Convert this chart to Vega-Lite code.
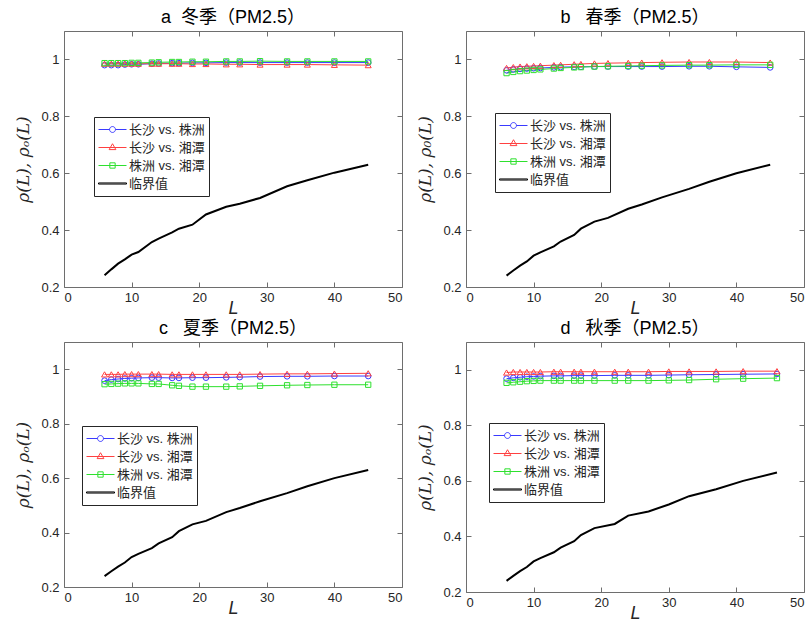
{
  "$schema": "https://vega.github.io/schema/vega-lite/v6.json",
  "padding": {"left": 14, "top": 8, "right": 2, "bottom": 0},
  "background": "white",
  "config": {
    "view": {"stroke": "#6e6e6e", "strokeWidth": 1},
    "font": "'Liberation Sans', 'Noto Sans CJK SC', sans-serif",
    "point": {"opacity": 1},
    "axis": {"labelFont": "'Liberation Sans', sans-serif", "labelFontSize": 13, "labelColor": "#262626", "tickColor": "#6e6e6e", "domain": false, "grid": false, "tickSize": -5, "labelPadding": 9, "titleColor": "#262626"},
    "title": {"font": "'Liberation Sans', 'Noto Sans CJK SC', sans-serif", "fontSize": 18, "fontWeight": "normal", "color": "#000000", "offset": 4},
    "legend": {"fillColor": "white", "strokeColor": "#262626", "padding": 4, "rowPadding": 1, "clipHeight": 17, "symbolSize": 784, "symbolStrokeWidth": 1, "symbolOpacity": 1, "labelFont": "'Liberation Sans', 'Noto Sans CJK SC', sans-serif", "labelFontSize": 13, "labelColor": "#262626", "labelOffset": 2, "cornerRadius": 0}
  },
  "datasets": {
    "d": [
      {"p":"a","L":6,"b":0.980,"r":0.985,"g":0.987,"k":0.241},
      {"p":"a","L":7,"b":0.980,"r":0.985,"g":0.987,"k":0.262},
      {"p":"a","L":8,"b":0.980,"r":0.985,"g":0.987,"k":0.282},
      {"p":"a","L":9,"b":0.982,"r":0.985,"g":0.987,"k":0.297},
      {"p":"a","L":10,"b":0.983,"r":0.985,"g":0.988,"k":0.314},
      {"p":"a","L":11,"b":0.983,"r":0.985,"g":0.988,"k":0.323},
      {"p":"a","L":13,"b":0.985,"r":0.985,"g":0.989,"k":0.358},
      {"p":"a","L":14,"b":0.986,"r":0.985,"g":0.990,"k":0.370},
      {"p":"a","L":16,"b":0.987,"r":0.985,"g":0.991,"k":0.392},
      {"p":"a","L":17,"b":0.987,"r":0.985,"g":0.991,"k":0.405},
      {"p":"a","L":19,"b":0.988,"r":0.984,"g":0.992,"k":0.419},
      {"p":"a","L":21,"b":0.988,"r":0.984,"g":0.992,"k":0.455},
      {"p":"a","L":24,"b":0.989,"r":0.983,"g":0.993,"k":0.482},
      {"p":"a","L":26,"b":0.989,"r":0.983,"g":0.993,"k":0.493},
      {"p":"a","L":29,"b":0.989,"r":0.982,"g":0.994,"k":0.513},
      {"p":"a","L":33,"b":0.989,"r":0.982,"g":0.993,"k":0.554},
      {"p":"a","L":36,"b":0.989,"r":0.982,"g":0.993,"k":0.575},
      {"p":"a","L":40,"b":0.989,"r":0.981,"g":0.993,"k":0.602},
      {"p":"a","L":45,"b":0.989,"r":0.980,"g":0.993,"k":0.630},

      {"p":"b","L":6,"b":0.962,"r":0.970,"g":0.952,"k":0.240},
      {"p":"b","L":7,"b":0.965,"r":0.973,"g":0.956,"k":0.258},
      {"p":"b","L":8,"b":0.967,"r":0.975,"g":0.959,"k":0.275},
      {"p":"b","L":9,"b":0.968,"r":0.976,"g":0.961,"k":0.290},
      {"p":"b","L":10,"b":0.969,"r":0.977,"g":0.963,"k":0.310},
      {"p":"b","L":11,"b":0.970,"r":0.978,"g":0.965,"k":0.322},
      {"p":"b","L":13,"b":0.972,"r":0.980,"g":0.968,"k":0.343},
      {"p":"b","L":14,"b":0.973,"r":0.981,"g":0.970,"k":0.360},
      {"p":"b","L":16,"b":0.974,"r":0.983,"g":0.972,"k":0.383},
      {"p":"b","L":17,"b":0.974,"r":0.984,"g":0.973,"k":0.405},
      {"p":"b","L":19,"b":0.975,"r":0.986,"g":0.975,"k":0.430},
      {"p":"b","L":21,"b":0.975,"r":0.987,"g":0.976,"k":0.443},
      {"p":"b","L":24,"b":0.975,"r":0.988,"g":0.977,"k":0.475},
      {"p":"b","L":26,"b":0.975,"r":0.989,"g":0.978,"k":0.490},
      {"p":"b","L":29,"b":0.975,"r":0.990,"g":0.979,"k":0.515},
      {"p":"b","L":33,"b":0.976,"r":0.991,"g":0.980,"k":0.545},
      {"p":"b","L":36,"b":0.976,"r":0.991,"g":0.980,"k":0.570},
      {"p":"b","L":40,"b":0.974,"r":0.991,"g":0.981,"k":0.600},
      {"p":"b","L":45,"b":0.972,"r":0.989,"g":0.981,"k":0.630},

      {"p":"c","L":6,"b":0.958,"r":0.981,"g":0.945,"k":0.240},
      {"p":"c","L":7,"b":0.962,"r":0.981,"g":0.946,"k":0.258},
      {"p":"c","L":8,"b":0.964,"r":0.981,"g":0.947,"k":0.275},
      {"p":"c","L":9,"b":0.966,"r":0.982,"g":0.948,"k":0.290},
      {"p":"c","L":10,"b":0.967,"r":0.982,"g":0.948,"k":0.310},
      {"p":"c","L":11,"b":0.968,"r":0.982,"g":0.948,"k":0.322},
      {"p":"c","L":13,"b":0.969,"r":0.982,"g":0.946,"k":0.343},
      {"p":"c","L":14,"b":0.969,"r":0.982,"g":0.946,"k":0.360},
      {"p":"c","L":16,"b":0.968,"r":0.981,"g":0.941,"k":0.383},
      {"p":"c","L":17,"b":0.968,"r":0.981,"g":0.939,"k":0.405},
      {"p":"c","L":19,"b":0.969,"r":0.981,"g":0.936,"k":0.430},
      {"p":"c","L":21,"b":0.969,"r":0.981,"g":0.936,"k":0.443},
      {"p":"c","L":24,"b":0.970,"r":0.981,"g":0.936,"k":0.475},
      {"p":"c","L":26,"b":0.971,"r":0.981,"g":0.937,"k":0.490},
      {"p":"c","L":29,"b":0.973,"r":0.982,"g":0.939,"k":0.515},
      {"p":"c","L":33,"b":0.974,"r":0.983,"g":0.941,"k":0.545},
      {"p":"c","L":36,"b":0.974,"r":0.983,"g":0.942,"k":0.570},
      {"p":"c","L":40,"b":0.975,"r":0.984,"g":0.943,"k":0.600},
      {"p":"c","L":45,"b":0.975,"r":0.985,"g":0.943,"k":0.630},

      {"p":"d","L":6,"b":0.968,"r":0.990,"g":0.953,"k":0.240},
      {"p":"d","L":7,"b":0.971,"r":0.992,"g":0.955,"k":0.258},
      {"p":"d","L":8,"b":0.973,"r":0.992,"g":0.957,"k":0.275},
      {"p":"d","L":9,"b":0.975,"r":0.992,"g":0.959,"k":0.290},
      {"p":"d","L":10,"b":0.976,"r":0.992,"g":0.960,"k":0.310},
      {"p":"d","L":11,"b":0.977,"r":0.992,"g":0.961,"k":0.322},
      {"p":"d","L":13,"b":0.978,"r":0.993,"g":0.961,"k":0.343},
      {"p":"d","L":14,"b":0.978,"r":0.993,"g":0.961,"k":0.360},
      {"p":"d","L":16,"b":0.979,"r":0.993,"g":0.961,"k":0.383},
      {"p":"d","L":17,"b":0.979,"r":0.993,"g":0.961,"k":0.405},
      {"p":"d","L":19,"b":0.979,"r":0.993,"g":0.961,"k":0.430},
      {"p":"d","L":22,"b":0.980,"r":0.993,"g":0.961,"k":0.445},
      {"p":"d","L":24,"b":0.980,"r":0.993,"g":0.961,"k":0.475},
      {"p":"d","L":27,"b":0.980,"r":0.993,"g":0.961,"k":0.490},
      {"p":"d","L":30,"b":0.981,"r":0.994,"g":0.962,"k":0.515},
      {"p":"d","L":33,"b":0.982,"r":0.994,"g":0.963,"k":0.545},
      {"p":"d","L":37,"b":0.983,"r":0.994,"g":0.966,"k":0.570},
      {"p":"d","L":41,"b":0.984,"r":0.995,"g":0.968,"k":0.600},
      {"p":"d","L":46,"b":0.985,"r":0.995,"g":0.970,"k":0.630}
    ]
  },
  "data": {"name": "d"},
  "transform": [{"fold": ["b", "r", "g", "k"], "as": ["s", "v"]}],
  "columns": 2,
  "spacing": {"row": 55, "column": 64},
  "bounds": "flush",
  "resolve": {"scale": {"color": "independent", "shape": "independent"}, "legend": {"color": "independent", "shape": "independent"}},
  "concat": [
        {
          "title": "a\u00a0\u00a0冬季（PM2.5）",
          "width": 338, "height": 256,
          "transform": [{"filter": "datum.p == 'a'"}],
          "layer": [
            {"transform": [{"filter": "datum.s == 'k'"}], "mark": {"type": "line", "color": "#000000", "strokeWidth": 2},
             "encoding": {
               "x": {"field": "L", "type": "quantitative", "scale": {"domain": [0, 50]}, "axis": {"orient": "bottom", "values": [0,10,20,30,40,50], "title": "L", "titleFontStyle": "italic", "titleFontSize": 18, "titleFontWeight": "normal", "titlePadding": -5, "labelPadding": 9}},
               "y": {"field": "v", "type": "quantitative", "scale": {"domain": [0.2, 1.1]}, "axis": {"orient": "left", "values": [0.2,0.4,0.6,0.8,1], "format": "~g", "title": "ρ(L), ρₒ(L)", "titleFont": "'DejaVu Serif', serif", "titleFontStyle": "italic", "titleFontSize": 17, "titleFontWeight": "normal", "titlePadding": 8, "labelPadding": 10}}}},
            {"transform": [{"filter": "datum.s == 'k'"}], "mark": {"type": "line", "opacity": 0},
             "encoding": {
               "x": {"field": "L", "type": "quantitative", "scale": {"domain": [0, 50]}, "axis": {"orient": "top", "values": [0,10,20,30,40,50], "labels": false, "title": null}},
               "y": {"field": "v", "type": "quantitative", "scale": {"domain": [0.2, 1.1]}, "axis": {"orient": "right", "values": [0.2,0.4,0.6,0.8,1], "labels": false, "title": null}}}},
            {"transform": [{"filter": "datum.s != 'k'"}], "mark": {"type": "line", "strokeWidth": 1},
             "encoding": {
               "x": {"field": "L", "type": "quantitative", "scale": {"domain": [0, 50]}, "axis": null},
               "y": {"field": "v", "type": "quantitative", "scale": {"domain": [0.2, 1.1]}, "axis": null},
               "color": {"field": "s", "type": "nominal", "scale": {"domain": ["b","r","g","k"], "range": ["#3a3aff","#ff4040","#2ee02e","#000000"]}, "legend": {"title": null, "orient": "none", "legendX": 30, "legendY": 86, "labelExpr": "{'b':'长沙 vs. 株洲','r':'长沙 vs. 湘潭','g':'株洲 vs. 湘潭','k':'临界值'}[datum.value]"}}}},
            {"transform": [{"filter": "datum.s == 'b'"}], "mark": {"type": "point", "shape": "circle", "filled": false, "size": 32, "strokeWidth": 1, "color": "#3a3aff"},
             "encoding": {"x": {"field": "L", "type": "quantitative", "scale": {"domain": [0, 50]}, "axis": null}, "y": {"field": "v", "type": "quantitative", "scale": {"domain": [0.2, 1.1]}, "axis": null}}},
            {"transform": [{"filter": "datum.s == 'r'"}], "mark": {"type": "point", "shape": "triangle-up", "filled": false, "size": 36, "strokeWidth": 1, "color": "#ff4040"},
             "encoding": {"x": {"field": "L", "type": "quantitative", "scale": {"domain": [0, 50]}, "axis": null}, "y": {"field": "v", "type": "quantitative", "scale": {"domain": [0.2, 1.1]}, "axis": null}}},
            {"transform": [{"filter": "datum.s == 'g'"}], "mark": {"type": "point", "shape": "square", "filled": false, "size": 28, "strokeWidth": 1, "color": "#2ee02e"},
             "encoding": {"x": {"field": "L", "type": "quantitative", "scale": {"domain": [0, 50]}, "axis": null}, "y": {"field": "v", "type": "quantitative", "scale": {"domain": [0.2, 1.1]}, "axis": null}}},
            {"transform": [{"filter": "false"}], "mark": {"type": "point", "filled": false, "strokeWidth": 1, "opacity": 1},
             "encoding": {
               "x": {"field": "L", "type": "quantitative", "scale": {"domain": [0, 50]}, "axis": null},
               "y": {"field": "v", "type": "quantitative", "scale": {"domain": [0.2, 1.1]}, "axis": null},
               "color": {"field": "s", "type": "nominal", "scale": {"domain": ["b","r","g","k"], "range": ["#3a3aff","#ff4040","#2ee02e","#000000"]}, "legend": {"title": null, "orient": "none", "legendX": 30, "legendY": 86, "labelExpr": "{'b':'长沙 vs. 株洲','r':'长沙 vs. 湘潭','g':'株洲 vs. 湘潭','k':'临界值'}[datum.value]"}},
               "shape": {"field": "s", "type": "nominal", "scale": {"domain": ["b","r","g","k"], "range": ["M-1,0H-0.21A0.21,0.21,0,1,1,0.21,0A0.21,0.21,0,1,1,-0.21,0M0.21,0H1", "M-1,0H1M0,-0.27L0.24,0.15L-0.24,0.15Z", "M-1,0H1M-0.19,-0.19H0.19V0.19H-0.19Z", "M-1,-0.04H1V0.04H-1Z"]}, "legend": {"title": null, "orient": "none", "legendX": 30, "legendY": 86, "labelExpr": "{'b':'长沙 vs. 株洲','r':'长沙 vs. 湘潭','g':'株洲 vs. 湘潭','k':'临界值'}[datum.value]"}}}}
          ],
          "resolve": {"axis": {"x": "independent", "y": "independent"}}
        },
        {
          "title": "b\u00a0\u00a0\u00a0春季（PM2.5）",
          "width": 338, "height": 256,
          "transform": [{"filter": "datum.p == 'b'"}],
          "layer": [
            {"transform": [{"filter": "datum.s == 'k'"}], "mark": {"type": "line", "color": "#000000", "strokeWidth": 2},
             "encoding": {
               "x": {"field": "L", "type": "quantitative", "scale": {"domain": [0, 50]}, "axis": {"orient": "bottom", "values": [0,10,20,30,40,50], "title": "L", "titleFontStyle": "italic", "titleFontSize": 18, "titleFontWeight": "normal", "titlePadding": -5, "labelPadding": 9}},
               "y": {"field": "v", "type": "quantitative", "scale": {"domain": [0.2, 1.1]}, "axis": {"orient": "left", "values": [0.2,0.4,0.6,0.8,1], "format": "~g", "title": "ρ(L), ρ₀(L)", "titleFont": "'DejaVu Serif', serif", "titleFontStyle": "italic", "titleFontSize": 17, "titleFontWeight": "normal", "titlePadding": 8, "labelPadding": 10}}}},
            {"transform": [{"filter": "datum.s == 'k'"}], "mark": {"type": "line", "opacity": 0},
             "encoding": {
               "x": {"field": "L", "type": "quantitative", "scale": {"domain": [0, 50]}, "axis": {"orient": "top", "values": [0,10,20,30,40,50], "labels": false, "title": null}},
               "y": {"field": "v", "type": "quantitative", "scale": {"domain": [0.2, 1.1]}, "axis": {"orient": "right", "values": [0.2,0.4,0.6,0.8,1], "labels": false, "title": null}}}},
            {"transform": [{"filter": "datum.s != 'k'"}], "mark": {"type": "line", "strokeWidth": 1},
             "encoding": {
               "x": {"field": "L", "type": "quantitative", "scale": {"domain": [0, 50]}, "axis": null},
               "y": {"field": "v", "type": "quantitative", "scale": {"domain": [0.2, 1.1]}, "axis": null},
               "color": {"field": "s", "type": "nominal", "scale": {"domain": ["b","r","g","k"], "range": ["#3a3aff","#ff4040","#2ee02e","#000000"]}, "legend": {"title": null, "orient": "none", "legendX": 29, "legendY": 82, "labelExpr": "{'b':'长沙 vs. 株洲','r':'长沙 vs. 湘潭','g':'株洲 vs. 湘潭','k':'临界值'}[datum.value]"}}}},
            {"transform": [{"filter": "datum.s == 'b'"}], "mark": {"type": "point", "shape": "circle", "filled": false, "size": 32, "strokeWidth": 1, "color": "#3a3aff"},
             "encoding": {"x": {"field": "L", "type": "quantitative", "scale": {"domain": [0, 50]}, "axis": null}, "y": {"field": "v", "type": "quantitative", "scale": {"domain": [0.2, 1.1]}, "axis": null}}},
            {"transform": [{"filter": "datum.s == 'r'"}], "mark": {"type": "point", "shape": "triangle-up", "filled": false, "size": 36, "strokeWidth": 1, "color": "#ff4040"},
             "encoding": {"x": {"field": "L", "type": "quantitative", "scale": {"domain": [0, 50]}, "axis": null}, "y": {"field": "v", "type": "quantitative", "scale": {"domain": [0.2, 1.1]}, "axis": null}}},
            {"transform": [{"filter": "datum.s == 'g'"}], "mark": {"type": "point", "shape": "square", "filled": false, "size": 28, "strokeWidth": 1, "color": "#2ee02e"},
             "encoding": {"x": {"field": "L", "type": "quantitative", "scale": {"domain": [0, 50]}, "axis": null}, "y": {"field": "v", "type": "quantitative", "scale": {"domain": [0.2, 1.1]}, "axis": null}}},
            {"transform": [{"filter": "false"}], "mark": {"type": "point", "filled": false, "strokeWidth": 1, "opacity": 1},
             "encoding": {
               "x": {"field": "L", "type": "quantitative", "scale": {"domain": [0, 50]}, "axis": null},
               "y": {"field": "v", "type": "quantitative", "scale": {"domain": [0.2, 1.1]}, "axis": null},
               "color": {"field": "s", "type": "nominal", "scale": {"domain": ["b","r","g","k"], "range": ["#3a3aff","#ff4040","#2ee02e","#000000"]}, "legend": {"title": null, "orient": "none", "legendX": 29, "legendY": 82, "labelExpr": "{'b':'长沙 vs. 株洲','r':'长沙 vs. 湘潭','g':'株洲 vs. 湘潭','k':'临界值'}[datum.value]"}},
               "shape": {"field": "s", "type": "nominal", "scale": {"domain": ["b","r","g","k"], "range": ["M-1,0H-0.21A0.21,0.21,0,1,1,0.21,0A0.21,0.21,0,1,1,-0.21,0M0.21,0H1", "M-1,0H1M0,-0.27L0.24,0.15L-0.24,0.15Z", "M-1,0H1M-0.19,-0.19H0.19V0.19H-0.19Z", "M-1,-0.04H1V0.04H-1Z"]}, "legend": {"title": null, "orient": "none", "legendX": 29, "legendY": 82, "labelExpr": "{'b':'长沙 vs. 株洲','r':'长沙 vs. 湘潭','g':'株洲 vs. 湘潭','k':'临界值'}[datum.value]"}}}}
          ],
          "resolve": {"axis": {"x": "independent", "y": "independent"}}
        },
        {
          "title": "c\u00a0\u00a0\u00a0夏季（PM2.5）",
          "width": 338, "height": 245,
          "transform": [{"filter": "datum.p == 'c'"}],
          "layer": [
            {"transform": [{"filter": "datum.s == 'k'"}], "mark": {"type": "line", "color": "#000000", "strokeWidth": 2},
             "encoding": {
               "x": {"field": "L", "type": "quantitative", "scale": {"domain": [0, 50]}, "axis": {"orient": "bottom", "values": [0,10,20,30,40,50], "title": "L", "titleFontStyle": "italic", "titleFontSize": 18, "titleFontWeight": "normal", "titlePadding": -5, "labelPadding": 9}},
               "y": {"field": "v", "type": "quantitative", "scale": {"domain": [0.2, 1.1]}, "axis": {"orient": "left", "values": [0.2,0.4,0.6,0.8,1], "format": "~g", "title": "ρ(L), ρₒ(L)", "titleFont": "'DejaVu Serif', serif", "titleFontStyle": "italic", "titleFontSize": 17, "titleFontWeight": "normal", "titlePadding": 8, "labelPadding": 10}}}},
            {"transform": [{"filter": "datum.s == 'k'"}], "mark": {"type": "line", "opacity": 0},
             "encoding": {
               "x": {"field": "L", "type": "quantitative", "scale": {"domain": [0, 50]}, "axis": {"orient": "top", "values": [0,10,20,30,40,50], "labels": false, "title": null}},
               "y": {"field": "v", "type": "quantitative", "scale": {"domain": [0.2, 1.1]}, "axis": {"orient": "right", "values": [0.2,0.4,0.6,0.8,1], "labels": false, "title": null}}}},
            {"transform": [{"filter": "datum.s != 'k'"}], "mark": {"type": "line", "strokeWidth": 1},
             "encoding": {
               "x": {"field": "L", "type": "quantitative", "scale": {"domain": [0, 50]}, "axis": null},
               "y": {"field": "v", "type": "quantitative", "scale": {"domain": [0.2, 1.1]}, "axis": null},
               "color": {"field": "s", "type": "nominal", "scale": {"domain": ["b","r","g","k"], "range": ["#3a3aff","#ff4040","#2ee02e","#000000"]}, "legend": {"title": null, "orient": "none", "legendX": 18, "legendY": 84, "labelExpr": "{'b':'长沙 vs. 株洲','r':'长沙 vs. 湘潭','g':'株洲 vs. 湘潭','k':'临界值'}[datum.value]"}}}},
            {"transform": [{"filter": "datum.s == 'b'"}], "mark": {"type": "point", "shape": "circle", "filled": false, "size": 32, "strokeWidth": 1, "color": "#3a3aff"},
             "encoding": {"x": {"field": "L", "type": "quantitative", "scale": {"domain": [0, 50]}, "axis": null}, "y": {"field": "v", "type": "quantitative", "scale": {"domain": [0.2, 1.1]}, "axis": null}}},
            {"transform": [{"filter": "datum.s == 'r'"}], "mark": {"type": "point", "shape": "triangle-up", "filled": false, "size": 36, "strokeWidth": 1, "color": "#ff4040"},
             "encoding": {"x": {"field": "L", "type": "quantitative", "scale": {"domain": [0, 50]}, "axis": null}, "y": {"field": "v", "type": "quantitative", "scale": {"domain": [0.2, 1.1]}, "axis": null}}},
            {"transform": [{"filter": "datum.s == 'g'"}], "mark": {"type": "point", "shape": "square", "filled": false, "size": 28, "strokeWidth": 1, "color": "#2ee02e"},
             "encoding": {"x": {"field": "L", "type": "quantitative", "scale": {"domain": [0, 50]}, "axis": null}, "y": {"field": "v", "type": "quantitative", "scale": {"domain": [0.2, 1.1]}, "axis": null}}},
            {"transform": [{"filter": "false"}], "mark": {"type": "point", "filled": false, "strokeWidth": 1, "opacity": 1},
             "encoding": {
               "x": {"field": "L", "type": "quantitative", "scale": {"domain": [0, 50]}, "axis": null},
               "y": {"field": "v", "type": "quantitative", "scale": {"domain": [0.2, 1.1]}, "axis": null},
               "color": {"field": "s", "type": "nominal", "scale": {"domain": ["b","r","g","k"], "range": ["#3a3aff","#ff4040","#2ee02e","#000000"]}, "legend": {"title": null, "orient": "none", "legendX": 18, "legendY": 84, "labelExpr": "{'b':'长沙 vs. 株洲','r':'长沙 vs. 湘潭','g':'株洲 vs. 湘潭','k':'临界值'}[datum.value]"}},
               "shape": {"field": "s", "type": "nominal", "scale": {"domain": ["b","r","g","k"], "range": ["M-1,0H-0.21A0.21,0.21,0,1,1,0.21,0A0.21,0.21,0,1,1,-0.21,0M0.21,0H1", "M-1,0H1M0,-0.27L0.24,0.15L-0.24,0.15Z", "M-1,0H1M-0.19,-0.19H0.19V0.19H-0.19Z", "M-1,-0.04H1V0.04H-1Z"]}, "legend": {"title": null, "orient": "none", "legendX": 18, "legendY": 84, "labelExpr": "{'b':'长沙 vs. 株洲','r':'长沙 vs. 湘潭','g':'株洲 vs. 湘潭','k':'临界值'}[datum.value]"}}}}
          ],
          "resolve": {"axis": {"x": "independent", "y": "independent"}}
        },
        {
          "title": "d\u00a0\u00a0\u00a0秋季（PM2.5）",
          "width": 338, "height": 250,
          "transform": [{"filter": "datum.p == 'd'"}],
          "layer": [
            {"transform": [{"filter": "datum.s == 'k'"}], "mark": {"type": "line", "color": "#000000", "strokeWidth": 2},
             "encoding": {
               "x": {"field": "L", "type": "quantitative", "scale": {"domain": [0, 50]}, "axis": {"orient": "bottom", "values": [0,10,20,30,40,50], "title": "L", "titleFontStyle": "italic", "titleFontSize": 18, "titleFontWeight": "normal", "titlePadding": -5, "labelPadding": 9}},
               "y": {"field": "v", "type": "quantitative", "scale": {"domain": [0.2, 1.1]}, "axis": {"orient": "left", "values": [0.2,0.4,0.6,0.8,1], "format": "~g", "title": "ρ(L), ρₒ(L)", "titleFont": "'DejaVu Serif', serif", "titleFontStyle": "italic", "titleFontSize": 17, "titleFontWeight": "normal", "titlePadding": 8, "labelPadding": 10}}}},
            {"transform": [{"filter": "datum.s == 'k'"}], "mark": {"type": "line", "opacity": 0},
             "encoding": {
               "x": {"field": "L", "type": "quantitative", "scale": {"domain": [0, 50]}, "axis": {"orient": "top", "values": [0,10,20,30,40,50], "labels": false, "title": null}},
               "y": {"field": "v", "type": "quantitative", "scale": {"domain": [0.2, 1.1]}, "axis": {"orient": "right", "values": [0.2,0.4,0.6,0.8,1], "labels": false, "title": null}}}},
            {"transform": [{"filter": "datum.s != 'k'"}], "mark": {"type": "line", "strokeWidth": 1},
             "encoding": {
               "x": {"field": "L", "type": "quantitative", "scale": {"domain": [0, 50]}, "axis": null},
               "y": {"field": "v", "type": "quantitative", "scale": {"domain": [0.2, 1.1]}, "axis": null},
               "color": {"field": "s", "type": "nominal", "scale": {"domain": ["b","r","g","k"], "range": ["#3a3aff","#ff4040","#2ee02e","#000000"]}, "legend": {"title": null, "orient": "none", "legendX": 23, "legendY": 81, "labelExpr": "{'b':'长沙 vs. 株洲','r':'长沙 vs. 湘潭','g':'株洲 vs. 湘潭','k':'临界值'}[datum.value]"}}}},
            {"transform": [{"filter": "datum.s == 'b'"}], "mark": {"type": "point", "shape": "circle", "filled": false, "size": 32, "strokeWidth": 1, "color": "#3a3aff"},
             "encoding": {"x": {"field": "L", "type": "quantitative", "scale": {"domain": [0, 50]}, "axis": null}, "y": {"field": "v", "type": "quantitative", "scale": {"domain": [0.2, 1.1]}, "axis": null}}},
            {"transform": [{"filter": "datum.s == 'r'"}], "mark": {"type": "point", "shape": "triangle-up", "filled": false, "size": 36, "strokeWidth": 1, "color": "#ff4040"},
             "encoding": {"x": {"field": "L", "type": "quantitative", "scale": {"domain": [0, 50]}, "axis": null}, "y": {"field": "v", "type": "quantitative", "scale": {"domain": [0.2, 1.1]}, "axis": null}}},
            {"transform": [{"filter": "datum.s == 'g'"}], "mark": {"type": "point", "shape": "square", "filled": false, "size": 28, "strokeWidth": 1, "color": "#2ee02e"},
             "encoding": {"x": {"field": "L", "type": "quantitative", "scale": {"domain": [0, 50]}, "axis": null}, "y": {"field": "v", "type": "quantitative", "scale": {"domain": [0.2, 1.1]}, "axis": null}}},
            {"transform": [{"filter": "false"}], "mark": {"type": "point", "filled": false, "strokeWidth": 1, "opacity": 1},
             "encoding": {
               "x": {"field": "L", "type": "quantitative", "scale": {"domain": [0, 50]}, "axis": null},
               "y": {"field": "v", "type": "quantitative", "scale": {"domain": [0.2, 1.1]}, "axis": null},
               "color": {"field": "s", "type": "nominal", "scale": {"domain": ["b","r","g","k"], "range": ["#3a3aff","#ff4040","#2ee02e","#000000"]}, "legend": {"title": null, "orient": "none", "legendX": 23, "legendY": 81, "labelExpr": "{'b':'长沙 vs. 株洲','r':'长沙 vs. 湘潭','g':'株洲 vs. 湘潭','k':'临界值'}[datum.value]"}},
               "shape": {"field": "s", "type": "nominal", "scale": {"domain": ["b","r","g","k"], "range": ["M-1,0H-0.21A0.21,0.21,0,1,1,0.21,0A0.21,0.21,0,1,1,-0.21,0M0.21,0H1", "M-1,0H1M0,-0.27L0.24,0.15L-0.24,0.15Z", "M-1,0H1M-0.19,-0.19H0.19V0.19H-0.19Z", "M-1,-0.04H1V0.04H-1Z"]}, "legend": {"title": null, "orient": "none", "legendX": 23, "legendY": 81, "labelExpr": "{'b':'长沙 vs. 株洲','r':'长沙 vs. 湘潭','g':'株洲 vs. 湘潭','k':'临界值'}[datum.value]"}}}}
          ],
          "resolve": {"axis": {"x": "independent", "y": "independent"}}
        }
  ]
}
